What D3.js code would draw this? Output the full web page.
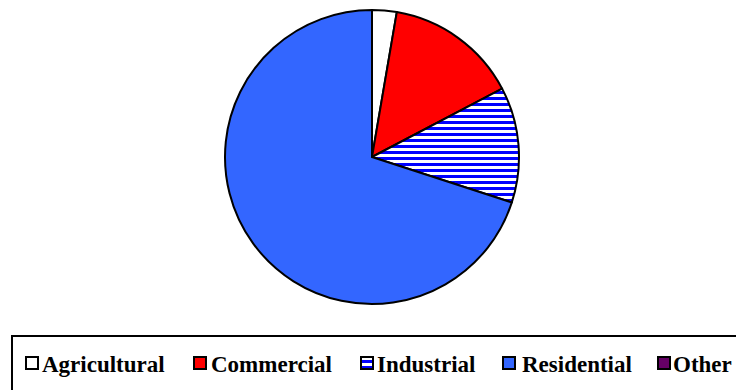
<!DOCTYPE html>
<html>
<head>
<meta charset="utf-8">
<script src="https://cdn.jsdelivr.net/npm/d3@7"></script>
<style>
  html, body { margin: 0; padding: 0; background: #fff; }
  svg { display: block; }
  .legend-label { font-family: "Liberation Serif"; font-weight: bold; font-size: 23px; }
</style>
</head>
<body>
<svg id="chart" width="736" height="390"></svg>
<script>
// Land-use shares (percent)
const categories = ["Agricultural", "Commercial", "Industrial", "Residential", "Other"];
const shares = [2.7, 14.6, 12.7, 70.0, 0.0];
const fills = ["#ffffff", "#ff0000", "url(#stripes)", "#3366ff", "#660066"];

const svg = d3.select("#chart");
const defs = svg.append("defs");

// Horizontal blue/white stripes for the Industrial slice
const pat = defs.append("pattern")
  .attr("id", "stripes")
  .attr("patternUnits", "userSpaceOnUse")
  .attr("width", 8).attr("height", 6);
pat.append("rect").attr("width", 8).attr("height", 6).attr("fill", "#ffffff");
pat.append("rect").attr("y", 0).attr("width", 8).attr("height", 3).attr("fill", "#0000ff");

const data = categories.map((c, i) => ({ name: c, value: shares[i], fill: fills[i] }));

const cx = 372, cy = 157, r = 147;
const pie = d3.pie().sort(null).value(d => d.value);
const arc = d3.arc().innerRadius(0).outerRadius(r);

const g = svg.append("g").attr("transform", `translate(${cx},${cy})`);
g.selectAll("path")
  .data(pie(data))
  .join("path")
  .attr("d", arc)
  .attr("fill", d => d.data.fill)
  .attr("stroke", "#000")
  .attr("stroke-width", 2)
  .attr("stroke-linejoin", "round");

// Legend frame (runs off the right and bottom edges)
svg.append("rect")
  .attr("x", 12).attr("y", 336)
  .attr("width", 740).attr("height", 70)
  .attr("fill", "none")
  .attr("stroke", "#000")
  .attr("stroke-width", 2);

const swatchX = [25, 193, 360, 502, 657];
const labelX = [42, 211, 377, 522, 673];

const legend = svg.append("g").selectAll("g")
  .data(data)
  .join("g");

legend.append("rect")
  .attr("x", (d, i) => swatchX[i] + 1).attr("y", 357)
  .attr("width", 12).attr("height", 12)
  .attr("fill", d => d.fill)
  .attr("stroke", "#000")
  .attr("stroke-width", 2);

legend.append("text")
  .attr("class", "legend-label")
  .attr("x", (d, i) => labelX[i])
  .attr("y", 372)
  .attr("fill", "#000")
  .text(d => d.name);
</script>
</body>
</html>
